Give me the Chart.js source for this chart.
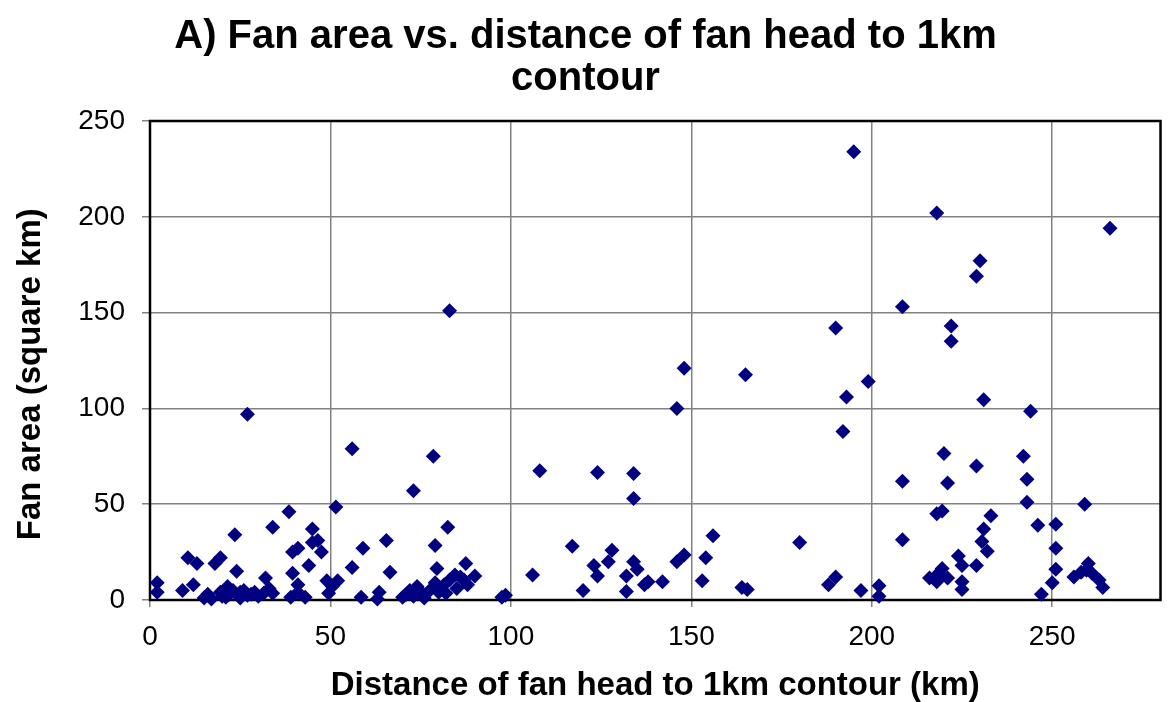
<!DOCTYPE html>
<html>
<head>
<meta charset="utf-8">
<title>Fan area vs. distance</title>
<script src="https://cdn.jsdelivr.net/npm/chart.js@4.4.1/dist/chart.umd.min.js"></script>
<style>
  html, body { margin: 0; padding: 0; background: #fff; }
  #wrap { width: 1168px; height: 702px; position: relative; }
</style>
</head>
<body>
<div id="wrap"><canvas id="fanChart"></canvas></div>
<script>
// ========== Data ==========
const titleLines = ['A) Fan area vs. distance of fan head to 1km', 'contour'];
const xTitle = 'Distance of fan head to 1km contour (km)';
const yTitle = 'Fan area (square km)';

// distance of fan head to 1km contour (km)
const distKm = [
  2, 2, 9, 10.5, 12, 13, 15, 16, 17, 18, 19.5, 19.5, 20, 21, 21.5, 22, 23, 23.5, 24, 25, 25, 26, 27, 27, 28, 29, 30,
  31.5, 32, 33, 34, 34, 38.5, 39, 39.5, 39.5, 41, 41, 41, 43, 44, 45, 45, 46.5, 47.5, 49, 49.5, 50.5, 51.5, 52,
  56, 78.5, 73, 82.5, 59, 65.5, 79, 56, 66.5, 79.5, 87.5, 90, 58.5, 63.5, 63, 70, 71, 72, 73, 74, 75.5, 76, 77.5,
  79, 80, 81.5, 83, 84.5, 85, 86, 87, 88, 82, 97.5, 98.5, 83,
  106, 108, 124, 134, 134, 156, 117, 128, 148, 146, 154, 123, 127, 124, 134, 135, 132, 120, 132, 137, 138, 142,
  153, 148, 146,
  195, 208.5, 190, 165, 199, 193, 192, 208.5, 180, 208.5, 164, 165.5, 188, 190, 197, 202, 202,
  218, 266, 230, 229, 222, 222, 231, 244, 220, 229, 242, 221, 243, 243, 259, 218, 219.5, 233, 231, 230.5, 232,
  246, 251, 251, 251, 250, 247, 224, 225, 229, 225, 225, 216, 218, 219.5, 218.5, 221, 256, 260, 259.5, 261, 263,
  264, 258
];

// fan area (square km)
const areaKm2 = [
  9, 4, 5, 22, 8, 19, 1, 3, 0.5, 19, 22, 4, 2, 1.5, 7, 3, 5, 34, 15, 4, 1, 5, 2.5, 97, 3, 4, 2,
  3.5, 11.5, 6, 3.5, 38, 46, 1.5, 14, 25, 27, 8, 4, 1.5, 18, 37, 30, 31, 25, 10, 3.5, 7, 48.5, 10,
  79, 75, 57, 38, 27, 31, 28.5, 17, 14.5, 16.5, 19, 12.5, 1.5, 4, 0.5, 1.5, 3, 5, 2, 7, 3.5, 1, 5,
  9, 4, 8, 10.5, 13, 6, 12, 10.5, 8, 3.5, 1.5, 2.5, 151,
  13, 67.5, 66.5, 66, 53, 33.5, 28, 26, 23.5, 20, 22, 18, 20, 12.5, 20, 16, 12.5, 5, 4.5, 8, 9.5, 9.5,
  10, 121, 100,
  234, 153, 142, 117.5, 114, 106, 88, 62, 30, 31.5, 6.5, 5.5, 8, 12, 5, 7.5, 2,
  202, 194, 177, 169, 143, 135, 104.5, 98.5, 76.5, 70, 75, 61, 63, 51, 50, 45, 46.5, 44, 37, 30.5, 25.5,
  39, 39.5, 27, 16, 9, 3, 23, 18, 18, 9.5, 5.5, 11.5, 9.5, 16.5, 14, 11.5, 12, 19, 15.5, 14, 10.5,
  6.5, 14.5
];

const xTicks = [0, 50, 100, 150, 200, 250];
const yTicks = [0, 50, 100, 150, 200, 250];

// ========== Chart ==========
const FONT = "'Liberation Sans', Arial, sans-serif";

const plotFrame = {
  id: 'plotFrame',
  beforeDatasetsDraw(chart) {
    const a = chart.chartArea;
    const ctx = chart.ctx;
    ctx.save();
    ctx.strokeStyle = '#000';
    ctx.lineWidth = 2.5;
    ctx.strokeRect(a.left, a.top, a.right - a.left, a.bottom - a.top);
    ctx.restore();
  }
};

const points = distKm.map((d, i) => ({ x: d, y: areaKm2[i] }));

new Chart(document.getElementById('fanChart'), {
  type: 'scatter',
  data: {
    datasets: [{
      label: 'Fans',
      data: points,
      pointStyle: 'rectRot',
      pointRadius: 7.5,
      pointHoverRadius: 7.5,
      backgroundColor: '#000080',
      borderColor: '#000080',
      borderWidth: 0,
      clip: false
    }]
  },
  options: {
    responsive: true, maintainAspectRatio: false, animation: false,
    layout: { padding: { left: 10, right: 7, top: 0, bottom: 0 } },
    plugins: {
      legend: { display: false },
      tooltip: { enabled: false },
      title: {
        display: true, text: titleLines, color: '#000',
        font: { family: FONT, size: 40, weight: 'bold', lineHeight: 1.05 },
        padding: { top: 16, bottom: 21 }
      }
    },
    scales: {
      x: {
        type: 'linear', min: 0, max: 280,
        afterFit: s => { s.height = 102; },
        afterBuildTicks: s => { s.ticks = xTicks.map(v => ({ value: v })); },
        grid: { color: '#828282', lineWidth: 1.5, tickLength: 7 },
        border: { display: false },
        ticks: { color: '#000', padding: 13, font: { family: FONT, size: 28 } },
        title: {
          display: true, text: xTitle, color: '#000',
          font: { family: FONT, size: 33, weight: 'bold', lineHeight: 1 },
          padding: { top: 0, bottom: 0 }
        }
      },
      y: {
        type: 'linear', min: 0, max: 250,
        afterFit: s => { s.width = 140; },
        afterBuildTicks: s => { s.ticks = yTicks.map(v => ({ value: v })); },
        grid: { color: '#828282', lineWidth: 1.5, tickLength: 8 },
        border: { display: false },
        ticks: { color: '#000', padding: 17, font: { family: FONT, size: 28 } },
        title: {
          display: true, text: yTitle + '   ', color: '#000',
          font: { family: FONT, size: 33, weight: 'bold' },
          padding: { top: 1, bottom: 0 }
        }
      }
    }
  },
  plugins: [plotFrame]
});
</script>
</body>
</html>
